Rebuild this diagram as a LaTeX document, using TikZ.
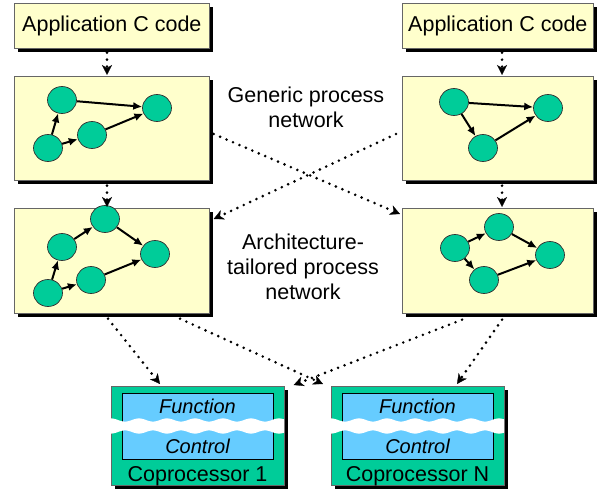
\documentclass[tikz,border=0pt]{standalone}
\usepackage{fontspec}
\setmainfont{Liberation Sans}
\usetikzlibrary{arrows.meta,shadows,calc,shapes.geometric}

\definecolor{paleyellow}{RGB}{255,255,204}
\definecolor{procgreen}{RGB}{0,204,153}
\definecolor{unitblue}{RGB}{102,204,255}

\begin{document}
\begin{tikzpicture}[x=1pt,y=-1pt,
  bigtext/.style={font=\fontsize{21.5}{25}\selectfont},
  shadowed/.style={drop shadow={shadow xshift=4pt,shadow yshift=-4pt,opacity=1,fill=black}},
  panel/.style={draw=black!60,line width=0.7pt,fill=paleyellow,inner sep=0pt,
    anchor=north west,shadowed,bigtext},
  copro/.style={draw=black!60,line width=0.7pt,fill=procgreen,inner sep=0pt,
    anchor=north west,shadowed},
  unit/.style={draw=black,line width=0.9pt,fill=unitblue,inner sep=0pt,anchor=north west},
  proc/.style={ellipse,draw=black!80,line width=0.7pt,fill=procgreen,
    minimum width=29pt,minimum height=27pt,inner sep=0pt},
  flow/.style={line width=2pt,-{Latex[length=9pt,width=8pt]}},
  dotflow/.style={line width=2.9pt,line cap=round,dash pattern=on 0pt off 7pt,
    -{Stealth[length=10pt,width=10pt,inset=3pt,line width=0.3pt]}},
  caption/.style={bigtext,align=center},
  unitlabel/.style={font=\fontsize{20}{24}\selectfont\itshape},
]
\useasboundingbox (0,0) rectangle (600,494);

% ---- input code boxes ----
\node[panel,minimum width=195pt,minimum height=45pt] (appL) at (14,3) {Application C code};
\node[panel,minimum width=191pt,minimum height=45pt] (appR) at (402,3) {Application C code};

% ---- generic process networks ----
\node[panel,minimum width=195pt,minimum height=104pt] (genL) at (14,76) {};
\node[panel,minimum width=191pt,minimum height=104pt] (genR) at (402,76) {};

% ---- architecture-tailored process networks ----
\node[panel,minimum width=195pt,minimum height=105pt] (tailL) at (14,208) {};
\node[panel,minimum width=191pt,minimum height=105pt] (tailR) at (402,208) {};

% ---- captions ----
\node[caption] (genText) at (306,107) {Generic process\\network};
\node[caption] (tailText) at (303,267) {Architecture-\\tailored process\\network};

% ---- process graph: generic, left ----
\node[proc] (gl1) at (62,100) {};
\node[proc] (gl2) at (157,108) {};
\node[proc] (gl3) at (92,135) {};
\node[proc] (gl4) at (48,148) {};
\draw[flow] (gl4) -- (gl1);
\draw[flow] (gl4) -- (gl3);
\draw[flow] (gl1) -- (gl2);
\draw[flow] (gl3) -- (gl2);

% ---- process graph: generic, right ----
\node[proc] (gr1) at (454,102) {};
\node[proc] (gr2) at (548,108) {};
\node[proc] (gr3) at (483,148) {};
\draw[flow] (gr1) -- (gr2);
\draw[flow] (gr1) -- (gr3);
\draw[flow] (gr3) -- (gr2);

% ---- process graph: tailored, left ----
\node[proc] (tl1) at (62,247) {};
\node[proc] (tl2) at (105,219) {};
\node[proc] (tl3) at (155,254) {};
\node[proc] (tl4) at (91,280) {};
\node[proc] (tl5) at (48,293) {};
\draw[flow] (tl5) -- (tl1);
\draw[flow] (tl1) -- (tl2);
\draw[flow] (tl2) -- (tl3);
\draw[flow] (tl5) -- (tl4);
\draw[flow] (tl4) -- (tl3);

% ---- process graph: tailored, right ----
\node[proc] (tr1) at (455,248) {};
\node[proc] (tr2) at (499,227) {};
\node[proc] (tr3) at (550,255) {};
\node[proc] (tr4) at (484,280) {};
\draw[flow] (tr1) -- (tr2);
\draw[flow] (tr2) -- (tr3);
\draw[flow] (tr1) -- (tr4);
\draw[flow] (tr4) -- (tr3);

% ---- coprocessors ----
\foreach \name/\bx/\lab in {cop1/111/Coprocessor 1, copN/331/Coprocessor N}{
  \node[copro,minimum width=173pt,minimum height=99pt] (\name) at (\bx,386) {};
  \node[unit,minimum width=151pt,minimum height=66pt] (\name unit) at (\bx+11,393) {};
  % white wavy band across the unit (wave period 28pt)
  \fill[white]
    plot[variable=\t,domain=0:173,samples=90,smooth] ({\bx+\t},{420-1.6*cos(12.857*\t)})
    -- plot[variable=\t,domain=173:0,samples=90,smooth] ({\bx+\t},{432+1.6*cos(12.857*\t)})
    -- cycle;
  \node[unitlabel] (\name fn) at (\bx+86.5,406) {Function};
  \node[unitlabel] (\name ctl) at (\bx+86.5,446) {Control};
  \node[bigtext] (\name lab) at (\bx+86.5,476) {\lab};
}

% ---- dotted refinement arrows ----
\draw[dotflow] ($(appL.south west)+(93,4)$) -- ($(genL.north west)+(93,-1)$);
\draw[dotflow] ($(appR.south west)+(100,4)$) -- ($(genR.north west)+(100,-1)$);
\draw[dotflow] ($(genL.south west)+(93,5)$) -- ($(tailL.north west)+(93,-1)$);
\draw[dotflow] ($(genR.south west)+(100,5)$) -- ($(tailR.north west)+(100,-1)$);
\draw[dotflow] ($(genL.north east)+(4,58)$) -- ($(tailR.north west)+(-2,6)$);
\draw[dotflow] ($(genR.north west)+(-6,58)$) -- ($(tailL.north east)+(4,11)$);

\draw[dotflow] ($(tailL.south west)+(94,5)$) -- ($(cop1.north west)+(49,-2)$);
\draw[dotflow] ($(tailL.south west)+(166,5)$) -- ($(copN.north west)+(-8,-2)$);
\draw[dotflow] ($(tailR.south west)+(60,6)$) -- ($(cop1.north east)+(9,-1)$);
\draw[dotflow] ($(tailR.south west)+(100,6)$) -- ($(copN.north west)+(126,-2)$);
\end{tikzpicture}
\end{document}
